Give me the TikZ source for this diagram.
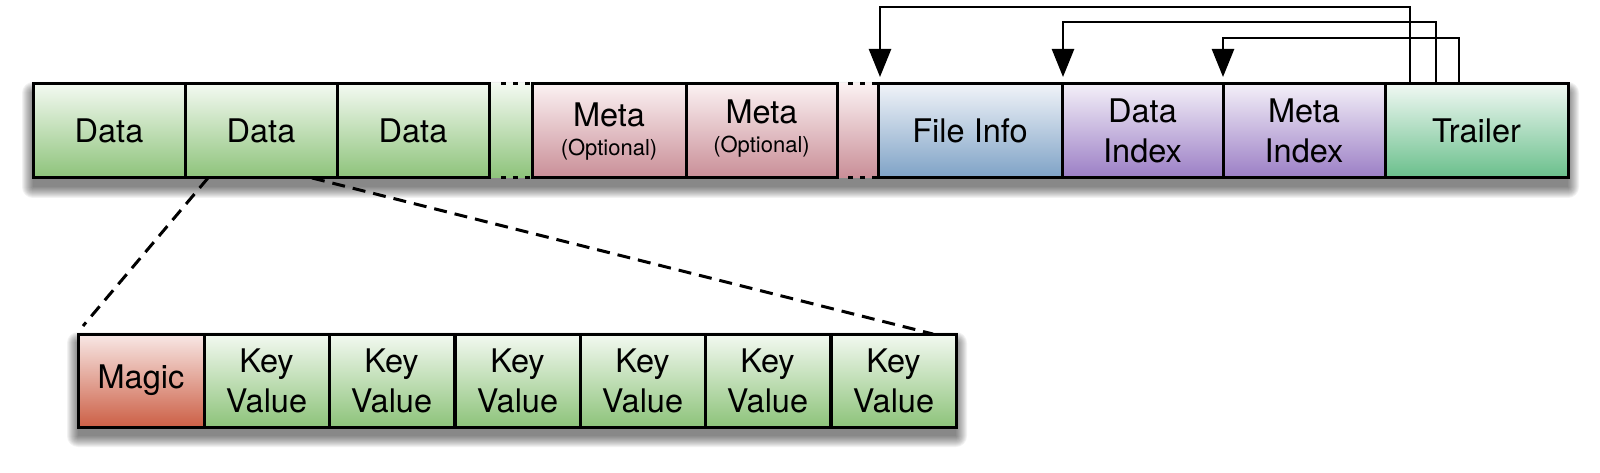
\documentclass[tikz,border=0pt]{standalone}
\usepackage{fontspec}
\setmainfont{TeX Gyre Heros}
\usetikzlibrary{arrows.meta}
\definecolor{grT}{HTML}{F3F9F1}
\definecolor{grB}{HTML}{8DC37A}
\definecolor{pkT}{HTML}{FBF1F2}
\definecolor{pkB}{HTML}{C98E97}
\definecolor{blT}{HTML}{F0F3F8}
\definecolor{blB}{HTML}{7EA2C6}
\definecolor{puT}{HTML}{F3EFF8}
\definecolor{puB}{HTML}{9B7EC5}
\definecolor{trT}{HTML}{F0F8F3}
\definecolor{trB}{HTML}{69BF8B}
\definecolor{mgT}{HTML}{F8E8E6}
\definecolor{mgB}{HTML}{CC5F45}
\begin{document}
\begin{tikzpicture}[x=1pt,y=-1pt,
  cell/.style={draw=black, line width=3pt, inner sep=0pt, outer sep=0pt,
    anchor=north west, minimum height=94pt, align=center,
    font=\fontsize{32.5}{40}\selectfont},
  lowcell/.style={cell, minimum height=93pt, minimum width=125pt},
  gapcell/.style={cell, draw=none},
  fillgreen/.style={top color=grT, bottom color=grB},
  fillpink/.style={top color=pkT, bottom color=pkB},
  fillblue/.style={top color=blT, bottom color=blB},
  fillpurple/.style={top color=puT, bottom color=puB},
  filltrailer/.style={top color=trT, bottom color=trB},
  fillmagic/.style={top color=mgT, bottom color=mgB},
  bigtext/.style={font=\fontsize{32.5}{40}\selectfont, inner sep=0pt},
  smalltext/.style={font=\fontsize{22}{26}\selectfont, inner sep=0pt},
  dotline/.style={line width=3pt, dash pattern=on 5pt off 7pt},
  arr/.style={line width=2.5pt, -{Triangle[length=28pt,width=22pt]}},
  zoomline/.style={line width=3pt, dash pattern=on 13pt off 8pt}]
\useasboundingbox (0,0) rectangle (1600,473);
% soft shadows
\foreach \r in {0,...,11} {
  \fill[black, opacity=0.05, rounded corners=\r pt]
    (33-\r, 93-\r) rectangle (1568+\r, 187+\r);
  \fill[black, opacity=0.05, rounded corners=\r pt]
    (78-\r, 343-\r) rectangle (956+\r, 436+\r);
}
% top row
\node[gapcell, fillgreen, minimum width=43pt] (g1) at (489,84) {};
\node[gapcell, fillpink, minimum width=41pt] (g2) at (837,84) {};
\node[cell, fillgreen, minimum width=152pt] (d1) at (33,84) {Data};
\node[cell, fillgreen, minimum width=152pt] (d2) at (185,84) {Data};
\node[cell, fillgreen, minimum width=152pt] (d3) at (337,84) {Data};
\node[cell, fillpink, minimum width=154pt] (m1) at (532,84) {};
\node[cell, fillpink, minimum width=151pt] (m2) at (686,84) {};
\node[cell, fillblue, minimum width=184pt] (fi) at (878,84) {File Info};
\node[cell, fillpurple, minimum width=161pt] (di) at (1062,84) {Data\\Index};
\node[cell, fillpurple, minimum width=162pt] (mi) at (1223,84) {Meta\\Index};
\node[cell, filltrailer, minimum width=183pt] (tr) at (1385,84) {Trailer};
% meta labels
\node[bigtext, anchor=base] (m1a) at ([yshift=4pt]m1.center) {Meta};
\node[smalltext, anchor=base] (m1b) at ([yshift=-25pt]m1.center) {(Optional)};
\node[bigtext, anchor=base] (m2a) at ([yshift=7pt]m2.center) {Meta};
\node[smalltext, anchor=base] (m2b) at ([yshift=-22pt]m2.center) {(Optional)};
% dotted edges of the gaps
\draw[dotline] ([xshift=12pt]g1.north west) -- (g1.north east);
\draw[dotline] ([xshift=12pt]g1.south west) -- (g1.south east);
\draw[dotline] ([xshift=11pt]g2.north west) -- (g2.north east);
\draw[dotline] ([xshift=11pt]g2.south west) -- (g2.south east);
% arrows from trailer
\draw[arr] ([xshift=25pt]tr.north west) -- ++(0,-77) -| ([xshift=2pt,yshift=7pt]fi.north west);
\draw[arr] ([xshift=51pt]tr.north west) -- ++(0,-62) -| ([xshift=1pt,yshift=7pt]di.north west);
\draw[arr] ([xshift=74pt]tr.north west) -- ++(0,-46) -| ([yshift=7pt]mi.north west);
% bottom row
\node[lowcell, fillmagic, minimum width=126pt] (mg) at (78,334) {Magic};
\node[lowcell, fillgreen] (k1) at (204,334) {Key\\Value};
\node[lowcell, fillgreen] (k2) at (329,334) {Key\\Value};
\node[lowcell, fillgreen] (k3) at (455,334) {Key\\Value};
\node[lowcell, fillgreen] (k4) at (580,334) {Key\\Value};
\node[lowcell, fillgreen] (k5) at (705,334) {Key\\Value};
\node[lowcell, fillgreen] (k6) at (831,334) {Key\\Value};
% zoom lines
\draw[zoomline] ([xshift=23pt]d2.south west) -- ([xshift=5pt,yshift=8pt]mg.north west);
\draw[zoomline] ([xshift=-25pt]d2.south east) -- ([xshift=-23pt]k6.north east);
\end{tikzpicture}
\end{document}
